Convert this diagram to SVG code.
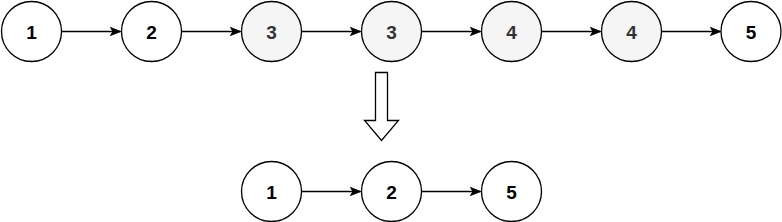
<svg xmlns="http://www.w3.org/2000/svg" width="782" height="222" viewBox="0 0 782 222">
<style>
.n{fill:#ffffff;stroke:#000000;stroke-width:1.3}
.g{fill:#f5f5f5;stroke:#000000;stroke-width:1.3}
.t{font-family:"Liberation Sans",Arial,sans-serif;font-size:19px;font-weight:bold;text-anchor:middle;dominant-baseline:central;fill:#000000}
.tg{fill:#333333}
.e{stroke:#000000;stroke-width:1.3;fill:none}
</style>
<defs>
<marker id="ah" markerUnits="userSpaceOnUse" markerWidth="12" markerHeight="10" refX="11" refY="5" orient="auto">
<path d="M1,1 L11,5 L1,9 L3.5,5 Z" fill="#000000" stroke="#000000" stroke-width="1"/>
</marker>
</defs>
<g id="connectors">
<line class="e" x1="61.5" y1="31.5" x2="120.5" y2="31.5" marker-end="url(#ah)"/>
<line class="e" x1="181.5" y1="31.5" x2="240.5" y2="31.5" marker-end="url(#ah)"/>
<line class="e" x1="301.5" y1="31.5" x2="360.5" y2="31.5" marker-end="url(#ah)"/>
<line class="e" x1="421.5" y1="31.5" x2="480.5" y2="31.5" marker-end="url(#ah)"/>
<line class="e" x1="541.5" y1="31.5" x2="600.5" y2="31.5" marker-end="url(#ah)"/>
<line class="e" x1="661.5" y1="31.5" x2="720.5" y2="31.5" marker-end="url(#ah)"/>
<line class="e" x1="301.5" y1="191.5" x2="360.5" y2="191.5" marker-end="url(#ah)"/>
<line class="e" x1="421.5" y1="191.5" x2="480.5" y2="191.5" marker-end="url(#ah)"/>
</g>
<g id="arrow-down">
<path d="M375.5,72.5 L387.5,72.5 L387.5,120.5 L398.5,120.5 L381.5,140.5 L364.5,120.5 L375.5,120.5 Z" fill="#ffffff" stroke="#000000" stroke-width="1.3"/>
</g>
<g id="n1"><circle class="n" cx="31.5" cy="31.5" r="30"/><text class="t" x="31.5" y="32">1</text></g>
<g id="n2"><circle class="n" cx="151.5" cy="31.5" r="30"/><text class="t" x="151.5" y="32">2</text></g>
<g id="n3a"><circle class="g" cx="271.5" cy="31.5" r="30"/><text class="t tg" x="271.5" y="32">3</text></g>
<g id="n3b"><circle class="g" cx="391.5" cy="31.5" r="30"/><text class="t tg" x="391.5" y="32">3</text></g>
<g id="n4a"><circle class="g" cx="511.5" cy="31.5" r="30"/><text class="t tg" x="511.5" y="32">4</text></g>
<g id="n4b"><circle class="g" cx="631.5" cy="31.5" r="30"/><text class="t tg" x="631.5" y="32">4</text></g>
<g id="n5"><circle class="n" cx="751" cy="31.5" r="30"/><text class="t" x="751" y="32">5</text></g>
<g id="r1"><circle class="n" cx="271.5" cy="191.5" r="30"/><text class="t" x="271.5" y="192">1</text></g>
<g id="r2"><circle class="n" cx="391.5" cy="191.5" r="30"/><text class="t" x="391.5" y="192">2</text></g>
<g id="r5"><circle class="n" cx="511.5" cy="191.5" r="30"/><text class="t" x="511.5" y="192">5</text></g>
</svg>
